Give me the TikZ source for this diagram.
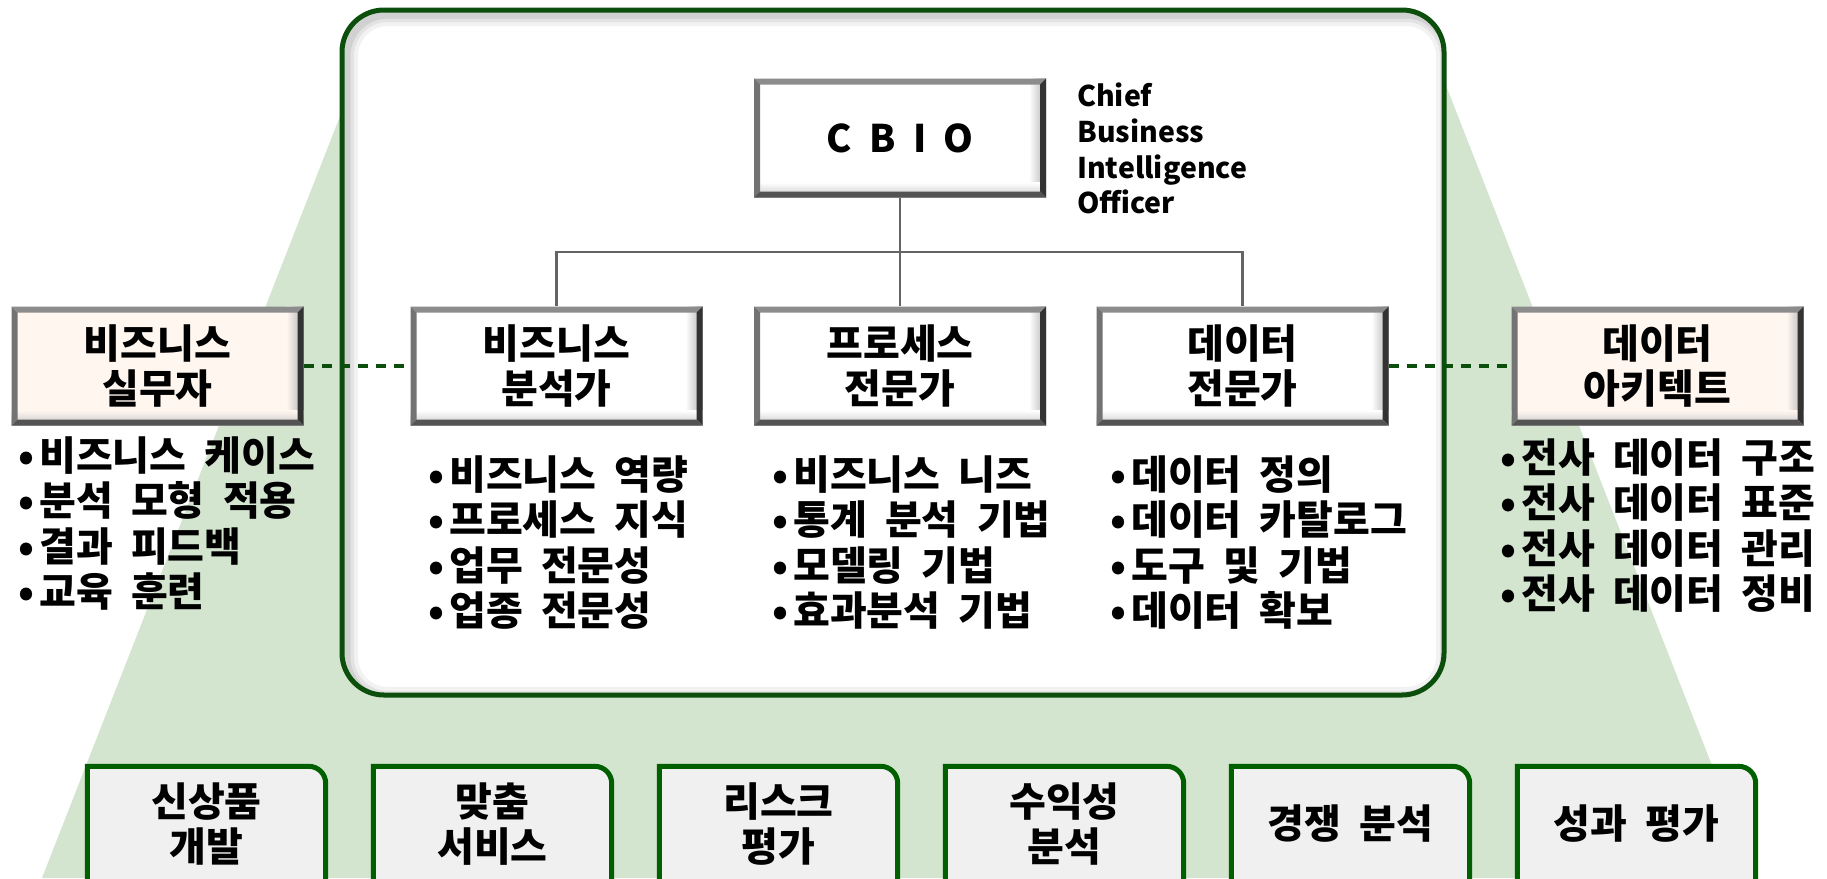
\documentclass[tikz,border=0pt]{standalone}
\usepackage{fontspec}
\setmainfont{Noto Sans CJK KR}[WordSpace=2]
\usepackage{color}
\usepackage{tikz}

\definecolor{leaf}{RGB}{211,229,207}
\definecolor{boxgreen}{RGB}{12,78,12}
\definecolor{tabgreen}{RGB}{0,96,0}
\definecolor{tabfill}{RGB}{240,240,240}
\definecolor{skin}{RGB}{255,246,240}
\definecolor{wiregray}{RGB}{100,100,100}

\newcommand\itm{•\hspace{5pt}}

\pgfdeclarelayer{back}
\pgfsetlayers{back,main}

\tikzset{
  bevel/.style={path picture={
    \coordinate (pa) at (path picture bounding box.north west);
    \coordinate (pb) at (path picture bounding box.north east);
    \coordinate (pc) at (path picture bounding box.south east);
    \coordinate (pd) at (path picture bounding box.south west);
    \shade[left color=#1,right color=black!30] ([shift={(-17pt,0pt)}]pb) rectangle (pc);
    \shade[top color=#1,bottom color=black!22] ([shift={(0pt,15pt)}]pd) rectangle (pc);
    \fill[black!45] (pa) -- (pb) -- ([shift={(-6pt,-6pt)}]pb) -- ([shift={(6pt,-6pt)}]pa) -- cycle;
    \fill[black!55] (pa) -- (pd) -- ([shift={(6pt,6pt)}]pd) -- ([shift={(6pt,-6pt)}]pa) -- cycle;
    \fill[black!80] (pb) -- (pc) -- ([shift={(-6pt,6pt)}]pc) -- ([shift={(-6pt,-6pt)}]pb) -- cycle;
    \fill[black!67] (pd) -- (pc) -- ([shift={(-6pt,6pt)}]pc) -- ([shift={(6pt,6pt)}]pd) -- cycle;
  }}
}

\begin{document}
\begin{tikzpicture}
	[x=1pt,y=-1pt,
	every node/.style={font=\bfseries\fontsize{40pt}{45.5pt}\selectfont},
	rolebox/.style={minimum width=292,minimum height=119,inner sep=0,align=center,fill=#1,bevel=#1},
	rolebox/.default=white,
	itemlist/.style={anchor=north west,inner sep=0,align=left},
	tabbox/.style={minimum width=238,minimum height=115,inner sep=0,align=center},
	wireline/.style={draw=wiregray,line width=2.5},
	tieline/.style={draw=boxgreen,line width=3.5,dash pattern=on 10pt off 8pt}]
	\useasboundingbox (0,0) rectangle (1827,878);
	
	\begin{pgfonlayer}{back}
	\fill[white] (0,0) rectangle (1827,878);
	\fill[leaf] (42,878) -- (362,60) -- (1436,60) -- (1756,878) -- cycle;
	\end{pgfonlayer}
	
	\fill[white,rounded corners=42] (342,10) rectangle (1444,695);
	\begin{scope}
	\clip[rounded corners=42] (342,10) rectangle (1444,695);
	\foreach \w/\o in {24/0.05,16/0.06,9/0.08}
	\draw[line width=\w,opacity=\o,rounded corners=42] (346,14) rectangle (1448,699);
	\end{scope}
	\draw[boxgreen,line width=5,rounded corners=42] (342,10) rectangle (1444,695);
	
	\node[rolebox,font=\bfseries\fontsize{38pt}{45pt}\selectfont] (n0) at (900,138) {C B I O};
	\node[itemlist,font=\bfseries\fontsize{28.5pt}{35.7pt}\selectfont] (n0t) at (1077,83) {Chief\\Business\\Intelligence\\Officer};
	\node[rolebox] (n1) at (556.5,366) {비즈니스\\분석가};
	\node[rolebox] (n2) at (900,366) {프로세스\\전문가};
	\node[rolebox] (n3) at (1242.5,366) {데이터\\전문가};
	\node[rolebox=skin] (n4) at (157.5,366) {비즈니스\\실무자};
	\node[rolebox=skin] (n5) at (1657.5,366) {데이터\\아키텍트};
	
	\coordinate (j) at (900,252);
	\draw[wireline] (n0) -- (n2);
	\draw[wireline] (n1) |- (j) -| (n3);
	\foreach \from/\to in {n4/n1,n3/n5}
	\draw[tieline] (\from) -- (\to);
	
	\node[itemlist] (l0) at (18,436) {\itm 비즈니스 케이스\\\itm 분석 모형 적용\\\itm 결과 피드백\\\itm 교육 훈련};
	\node[itemlist] (l1) at (428,455) {\itm 비즈니스 역량\\\itm 프로세스 지식\\\itm 업무 전문성\\\itm 업종 전문성};
	\node[itemlist] (l2) at (772,455) {\itm 비즈니스 니즈\\\itm 통계 분석 기법\\\itm 모델링 기법\\\itm 효과분석 기법};
	\node[itemlist] (l3) at (1110,455) {\itm 데이터 정의\\\itm 데이터 카탈로그\\\itm 도구 및 기법\\\itm 데이터 확보};
	\node[itemlist] (l4) at (1500,438) {\itm 전사 데이터 구조\\\itm 전사 데이터 표준\\\itm 전사 데이터 관리\\\itm 전사 데이터 정비};
	
	\node[tabbox] (e1) at (206.5,824) {신상품\\개발};
	\node[tabbox] (e2) at (492.5,824) {맞춤\\서비스};
	\node[tabbox] (e3) at (778.5,824) {리스크\\평가};
	\node[tabbox] (e4) at (1064.5,824) {수익성\\분석};
	\node[tabbox] (e5) at (1350.5,824) {경쟁 분석};
	\node[tabbox] (e6) at (1636.5,824) {성과 평가};
	\begin{pgfonlayer}{back}
	\foreach \i in {1,...,6}
	\draw[tabgreen,fill=tabfill,line width=5] (e\i.south) -- (e\i.south west) -- (e\i.north west) [rounded corners=17] -- (e\i.north east) [sharp corners] -- (e\i.south east) [rounded corners=17] -- cycle;
	\end{pgfonlayer}
\end{tikzpicture}
\end{document}
